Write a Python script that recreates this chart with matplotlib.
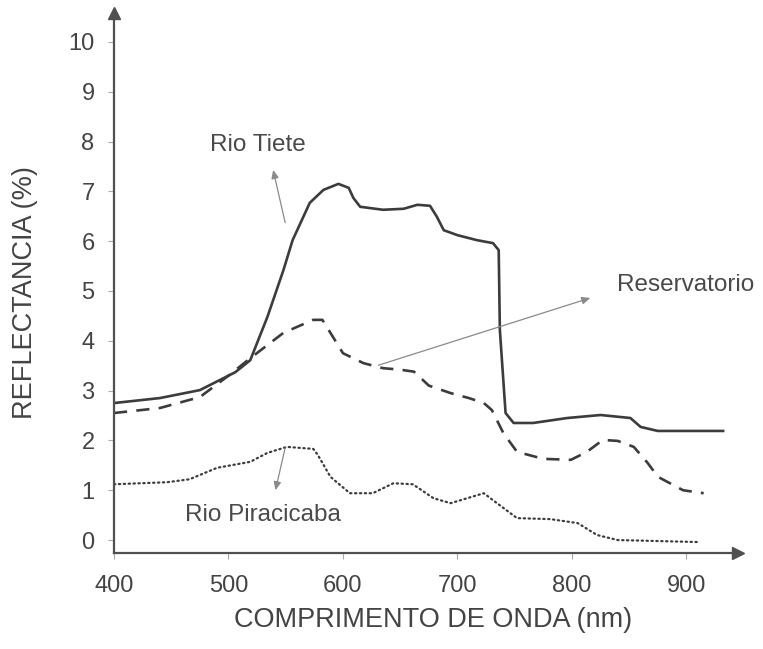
import matplotlib
matplotlib.use("Agg")
import matplotlib.pyplot as plt

plt.rcParams['font.family'] = ['Liberation Sans', 'DejaVu Sans']

# Spectral reflectance curves (wavelength in nm, reflectance in %)
tiete_nm = [400, 440, 475, 506, 519, 534, 548, 556, 571, 583, 596, 605, 609, 615,
            635, 653, 665, 676, 682, 688, 700, 717, 731, 736, 737, 742, 749, 766,
            796, 825, 851, 860, 875, 932]
tiete_r = [2.75, 2.85, 3.01, 3.37, 3.61, 4.48, 5.42, 6.02, 6.77, 7.03, 7.15, 7.07,
           6.87, 6.69, 6.63, 6.65, 6.73, 6.71, 6.49, 6.22, 6.12, 6.02, 5.96, 5.82,
           4.22, 2.55, 2.35, 2.35, 2.45, 2.51, 2.45, 2.27, 2.19, 2.19]

reserv_nm = [400, 440, 475, 500, 519, 548, 574, 582, 589, 600, 618, 635, 650, 662,
             675, 694, 710, 723, 730, 740, 752, 775, 799, 813, 827, 840, 854, 866,
             875, 897, 915]
reserv_r = [2.55, 2.65, 2.87, 3.3, 3.65, 4.16, 4.42, 4.42, 4.16, 3.75, 3.55, 3.45,
            3.42, 3.38, 3.1, 2.95, 2.85, 2.75, 2.61, 2.15, 1.77, 1.63, 1.61, 1.77,
            2.01, 1.99, 1.87, 1.55, 1.27, 1.0, 0.94]

pirac_nm = [400, 446, 466, 490, 519, 534, 551, 574, 578, 589, 606, 626, 644, 661,
            679, 694, 723, 731, 752, 781, 805, 822, 840, 910]
pirac_r = [1.12, 1.16, 1.22, 1.45, 1.57, 1.75, 1.87, 1.83, 1.71, 1.27, 0.94, 0.94,
           1.14, 1.12, 0.84, 0.74, 0.94, 0.80, 0.44, 0.42, 0.34, 0.10, 0.0, -0.04]

x_ticks = [400, 500, 600, 700, 800, 900]
y_ticks = list(range(0, 11))

W, H = 763, 649
fig = plt.figure(figsize=(W / 100, H / 100), dpi=100)
fig.patch.set_facecolor('white')

left, right, bottom, top = 114, 738, 553, 13
ax = fig.add_axes([left / W, 1 - bottom / H, (right - left) / W, (bottom - top) / H])
ax.set_xlim(400, 945)
ax.set_ylim(-0.26, 10.58)

ink = '#3c3c3c'
ax.plot(tiete_nm, tiete_r, color=ink, lw=1.9, solid_joinstyle='round')
ax.plot(reserv_nm, reserv_r, color=ink, lw=1.9, linestyle=(0, (5, 3.5)))
ax.plot(pirac_nm, pirac_r, color=ink, lw=1.6, linestyle=(0, (0.6, 1.6)),
        dash_capstyle='round')

# Axes with arrowheads
for s in ['top', 'right']:
    ax.spines[s].set_visible(False)
for s in ['left', 'bottom']:
    ax.spines[s].set_color('#505050')
    ax.spines[s].set_linewidth(1.6)
ax.plot(1, 0, '>', transform=ax.transAxes, color='#505050', ms=8, clip_on=False)
ax.plot(0, 1, '^', transform=ax.transAxes, color='#505050', ms=8, clip_on=False)

ax.set_xticks(x_ticks)
ax.set_yticks(y_ticks)
ax.tick_params(axis='both', direction='out', length=4, width=0.8, color='#aaaaaa',
               labelsize=17, labelcolor='#444444')
ax.tick_params(axis='x', pad=12)
ax.tick_params(axis='y', pad=10)

fig.text(433 / W, 1 - 620 / H, 'COMPRIMENTO DE ONDA (nm)', ha='center', va='center',
         fontsize=19.5, color='#444444')
fig.text(25 / W, 1 - 293 / H, 'REFLECTANCIA (%)', ha='center', va='center',
         rotation=90, fontsize=19.5, color='#444444')

arrow = dict(arrowstyle='-|>,head_length=0.5,head_width=0.22', color='#8a8a8a',
             lw=0.9, shrinkA=0, shrinkB=0)
ax.annotate('', xy=(539, 7.43), xytext=(549.5, 6.37), arrowprops=arrow)
ax.annotate('', xy=(816, 4.86), xytext=(631, 3.51), arrowprops=arrow)
ax.annotate('', xy=(541, 1.0), xytext=(549.5, 1.85), arrowprops=arrow)

txt = dict(fontsize=17.5, color='#4a4a4a', ha='center', va='center')
ax.text(526, 7.93, 'Rio Tiete', **txt)
ax.text(899, 5.12, 'Reservatorio', **txt)
ax.text(530, 0.50, 'Rio Piracicaba', **txt)

fig.savefig('out.png', dpi=100, facecolor='white')
